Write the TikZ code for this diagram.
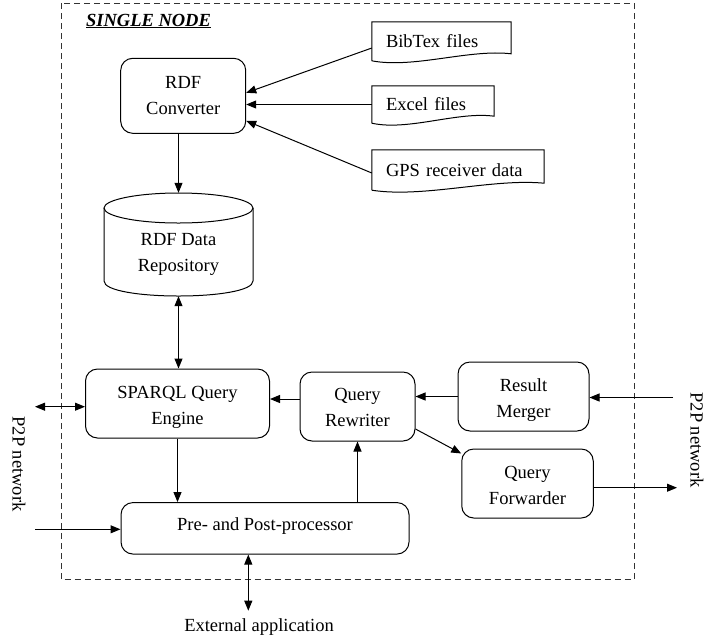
\documentclass[tikz,border=0pt]{standalone}
\usepackage{fontspec}
\setmainfont{Liberation Serif}
\usetikzlibrary{arrows.meta,calc}
\newcommand\mydoc[1]{%
  \draw[line width=1pt] (#1.south west) -- (#1.north west) -- (#1.north east) -- ([yshift=7pt]#1.south east)
    .. controls ([yshift=12pt]$(#1.south west)!0.7!(#1.south east)$) and ([yshift=-8pt]$(#1.south west)!0.3!(#1.south east)$) .. (#1.south west);}
\newcommand\dn[2]{\raisebox{-#1}[\height][\depth]{#2}}
\begin{document}
\begin{tikzpicture}[x=1pt,y=-1pt,
  font=\fontsize{18.5}{26}\selectfont,
  box/.style={draw,line width=1pt,rounded corners=12pt,align=center,inner sep=0pt},
  docbox/.style={inner ysep=0pt,inner xsep=14pt,align=left},
  atip/.tip={Triangle[length=10pt,width=8pt]},
  arr/.style={-atip,line width=1pt},
  darr/.style={atip-atip,line width=1pt},
  frame/.style={draw=black!80,line width=1pt,dash pattern=on 6pt off 4pt}]
\useasboundingbox (0,0) rectangle (704,641);

% frame
\draw[frame] (61,3) rectangle (634,579.5);
\node[font=\fontsize{18.5}{22}\selectfont\bfseries\itshape] (title) at (148.5,21) {\underline{SINGLE NODE}};

% boxes
\node[box,minimum width=125pt,minimum height=75pt] (conv) at (183.2,95.8) {RDF\\Converter};
\node[docbox,text width=111pt,minimum height=38.6pt] (bib) at (441.5,41.3) {BibTex files};
\node[docbox,text width=94pt,minimum height=37pt] (excel) at (433,104.5) {Excel files};
\node[docbox,text width=144pt,minimum height=40pt] (gps) at (458,170) {GPS receiver data};
\mydoc{bib}
\mydoc{excel}
\mydoc{gps}

% cylinder
\draw[line width=1pt] (178.5,208) ellipse [x radius=74.5, y radius=15];
\draw[line width=1pt] (104,208) -- (104,281) .. controls (104,301) and (253,301) .. (253,281) -- (253,208);
\node[align=center,inner sep=0pt,minimum width=149pt,minimum height=87pt] (repo) at (178.5,252.5) {\dn{2pt}{RDF Data}\\\dn{2pt}{Repository}};

\node[box,minimum width=184pt,minimum height=69pt] (sparql) at (177.5,403.5) {\dn{4pt}{SPARQL Query}\\\dn{4pt}{Engine}};
\node[box,minimum width=115pt,minimum height=69pt] (rewr) at (357.5,406.5) {\dn{1pt}{Query}\\\dn{1pt}{Rewriter}};
\node[box,minimum width=131pt,minimum height=69pt] (merger) at (523.5,396.5) {\dn{4pt}{Result}\\\dn{4pt}{Merger}};
\node[box,minimum width=131.5pt,minimum height=69pt] (fwd) at (527.5,483.5) {\dn{2pt}{Query}\\\dn{2pt}{Forwarder}};
\node[box,minimum width=288pt,minimum height=51.5pt] (prep) at (265,528.3) {\dn{-2pt}{Pre- and Post-processor}};

% outside labels
\node[rotate=-90] (p2pl) at (19,464) {P2P network};
\node[rotate=-90] (p2pr) at (697,440) {P2P network};
\node (extlbl) at (259,627) {External application};

% coordinates
\coordinate (rin) at (673,397.5);
\coordinate (rout) at (677,487.7);
\coordinate (lio) at (35,406.7);
\coordinate (lin) at (35,529.3);
\coordinate (ext) at (248.3,610.7);

% connectors
\draw[arr] ([yshift=-6.7pt]bib.west) -- ([yshift=3pt]conv.east);
\draw[arr] (excel.west) -- (excel.west -| conv.east);
\draw[arr] ([yshift=-3pt]gps.west) -- ([yshift=-25pt]conv.east);
\draw[arr] (repo.north |- conv.south) -- ([yshift=16pt]repo.north);
\draw[darr] (repo.south) -- (repo.south |- sparql.north);
\draw[arr] (sparql.south) -- (sparql.south |- prep.north);
\draw[arr] (rewr.south |- prep.north) -- (rewr.south);
\draw[arr] ([yshift=7.5pt]rewr.west) -- ([yshift=7.5pt]rewr.west -| sparql.east);
\draw[arr] (merger.west) -- (merger.west -| rewr.east);
\draw[arr] ([yshift=-22.5pt]rewr.east) -- ([yshift=-5pt]fwd.north west);
\draw[arr] (rin) -- (rin -| merger.east);
\draw[arr] (rout -| fwd.east) -- (rout);
\draw[darr] (lio) -- (lio -| sparql.west);
\draw[arr] (lin) -- (lin -| prep.west);
\draw[darr] (ext |- prep.south) -- (ext);
\end{tikzpicture}
\end{document}
